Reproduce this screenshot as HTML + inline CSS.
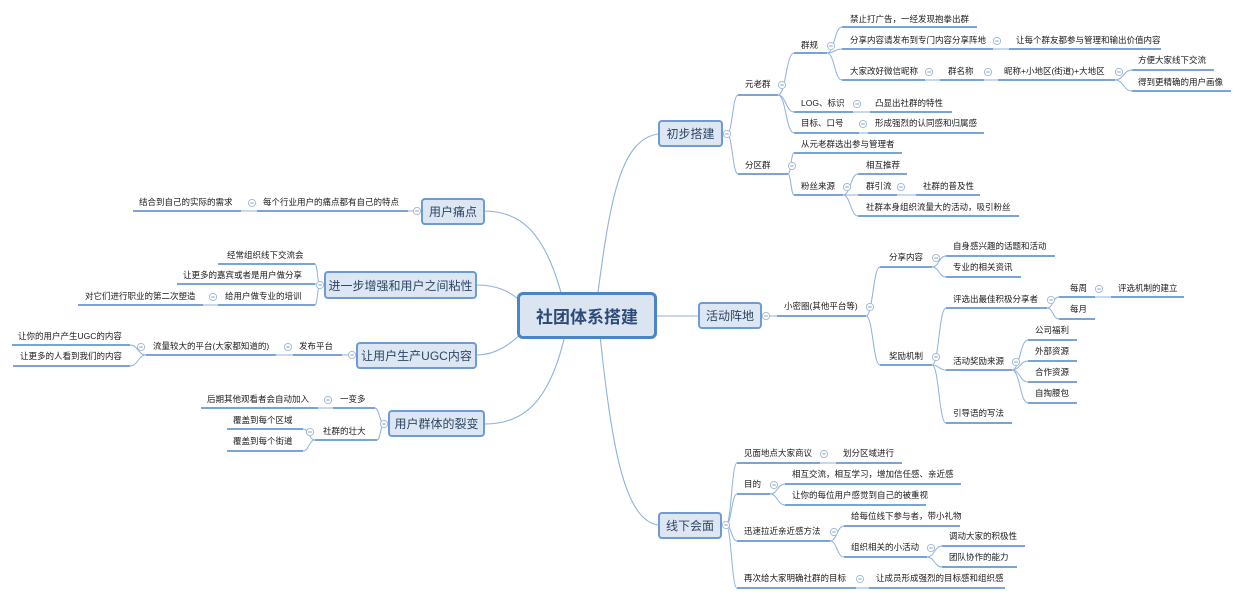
<!DOCTYPE html>
<html><head><meta charset="utf-8">
<style>
html,body{margin:0;padding:0;background:#fff;}
#c{position:relative;width:1240px;height:599px;overflow:hidden;font-family:"Liberation Sans","Noto Sans CJK SC",sans-serif;}
svg{position:absolute;left:0;top:0;}
.t{position:absolute;font-size:8.5px;color:#1a1a1a;white-space:nowrap;line-height:10px;}
.b{position:absolute;box-sizing:border-box;background:#dde7f3;border:2px solid #6e9bd3;border-radius:4px;color:#2f4463;font-size:12px;display:flex;align-items:center;justify-content:center;white-space:nowrap;}
</style></head><body><div id="c"><svg id="s" width="1240" height="599"></svg></div>
<script>
const C=document.getElementById('c'),S=document.getElementById('s');
let svg='';
function line(d,col,w){svg+=`<path d="${d}" fill="none" stroke="${col}" stroke-width="${w}"/>`;}
function circ(x,y){svg+=`<circle cx="${x}" cy="${y}" r="3.6" fill="#fff" stroke="#9db6d6" stroke-width="0.9"/><line x1="${x-1.8}" y1="${y}" x2="${x+1.8}" y2="${y}" stroke="#7f97b8" stroke-width="0.9"/>`;}
function txt(t,x,y){const d=document.createElement('div');d.className='t';d.textContent=t;d.style.left=x+'px';d.style.top=(y-6)+'px';C.appendChild(d);}
function box(t,x,y,w,h,extra){const d=document.createElement('div');d.className='b';d.textContent=t;d.style.left=x+'px';d.style.top=y+'px';d.style.width=w+'px';d.style.height=h+'px';if(extra)Object.assign(d.style,extra);C.appendChild(d);}
const LC='#8fb1de';
function N(t,x,ty,x1,x2,uy){return {t,x,ty,x1,x2,uy:uy===undefined?ty+8:uy};}
function drawNode(n){txt(n.t,n.x,n.ty);line(`M${n.x1} ${n.uy}H${n.x2}`,'#4f86c9',1.6);}
function edgeR(px,py,c){const mx=px+Math.min(9,(c.x1-px)/2);line(`M${px} ${py}C${mx} ${py} ${mx} ${c.uy} ${c.x1} ${c.uy}`,LC,1);}
function edgeL(px,py,c){const mx=px-Math.min(9,(px-c.x2)/2);line(`M${px} ${py}C${mx} ${py} ${mx} ${c.uy} ${c.x2} ${c.uy}`,LC,1);}
function R(p,kids){kids.forEach(k=>{edgeR(p.x2,p.uy,k[0]);drawNode(k[0]);if(k[1]){R(k[0],k[1]);}});if(kids.length)circ(p.x2+4,p.ty);}
function Lf(p,kids){kids.forEach(k=>{edgeL(p.x1,p.uy,k[0]);drawNode(k[0]);if(k[1]){Lf(k[0],k[1]);}});if(kids.length)circ(p.x1-5,p.ty);}
function BR(bx,by,kids){kids.forEach(k=>{edgeR(bx+4,by,k[0]);drawNode(k[0]);if(k[1])R(k[0],k[1]);});circ(bx+4,by);}
function BL(bx,by,kids){kids.forEach(k=>{edgeL(bx-4,by,k[0]);drawNode(k[0]);if(k[1])Lf(k[0],k[1]);});circ(bx-4,by);}

line('M597 300C610 200 620 140 658 134',LC,1.1);
line('M657 316H698',LC,1.1);
line('M600 335C612 450 625 520 658 525',LC,1.1);
line('M563 300C545 230 520 212 485 211',LC,1.1);
line('M525 305C510 290 495 285 477 285',LC,1.1);
line('M525 330C510 345 495 355 477 355',LC,1.1);
line('M565 335C550 400 525 424 485 424',LC,1.1);

BR(723,134,[
 [N('元老群',745,85,738,778,95),[
   [N('群规',801,46,794,827,53),[
     [N('禁止打广告，一经发现抱拳出群',850,20,842,977,27)],
     [N('分享内容请发布到专门内容分享阵地',850,41,842,993,49),[[N('让每个群友都参与管理和输出价值内容',1016,41,1009,1161,49)]]],
     [N('大家改好微信昵称',850,72,842,925,80),[[N('群名称',948,72,940,984,80),[[N('昵称+小地区(街道)+大地区',1004,72,998,1115,80),[
        [N('方便大家线下交流',1138,61,1132,1214,70)],[N('得到更精确的用户画像',1138,83,1132,1231,91)]]]]]]]
   ]],
   [N('LOG、标识',801,104,794,853,112),[[N('凸显出社群的特性',875,104,870,952,112)]]],
   [N('目标、口号',801,124,794,859,133),[[N('形成强烈的认同感和归属感',875,124,868,984,133)]]]
 ]],
 [N('分区群',745,166,738,788,174),[
   [N('从元老群选出参与管理者',801,145,794,902,153)],
   [N('粉丝来源',801,187,794,843,195),[
     [N('相互推荐',866,166,858,907,174)],
     [N('群引流',866,187,858,897,195),[[N('社群的普及性',923,187,916,980,195)]]],
     [N('社群本身组织流量大的活动，吸引粉丝',866,208,858,1019,216)]
   ]]
 ]]
]);
BR(762,316,[
 [N('小密圈(其他平台等)',784,307,777,866,316),[
   [N('分享内容',889,258,880,932,267),[
     [N('自身感兴趣的话题和活动',953,247,946,1055,256)],
     [N('专业的相关资讯',953,268,946,1021,277)]]],
   [N('奖励机制',889,357,880,932,365),[
     [N('评选出最佳积极分享者',953,300,946,1047,308),[
       [N('每周',1070,289,1059,1095,297),[[N('评选机制的建立',1118,289,1111,1184,297)]]],
       [N('每月',1070,310,1059,1095,319)]]],
     [N('活动奖励来源',953,362,946,1012,370),[
       [N('公司福利',1035,331,1028,1077,340)],[N('外部资源',1035,352,1028,1077,361)],
       [N('合作资源',1035,373,1028,1077,382)],[N('自掏腰包',1035,394,1028,1077,403)]]],
     [N('引导语的写法',953,414,946,1012,423)]]]
 ]]
]);
BR(722,525,[
 [N('见面地点大家商议',744,454,737,820,463),[[N('划分区域进行',843,454,836,902,463)]]],
 [N('目的',744,485,737,770,494),[
   [N('相互交流，相互学习，增加信任感、亲近感',792,475,785,961,484)],
   [N('让你的每位用户感觉到自己的被重视',792,496,785,926,505)]]],
 [N('迅速拉近亲近感方法',744,532,737,830,541),[
   [N('给每位线下参与者，带小礼物',851,517,844,960,526)],
   [N('组织相关的小活动',851,548,844,927,557),[
     [N('调动大家的积极性',949,537,942,1025,546)],
     [N('团队协作的能力',949,558,942,1017,567)]]]]],
 [N('再次给大家明确社群的目标',744,579,737,856,588),[[N('让成员形成强烈的目标感和组织感',876,579,869,1005,588)]]]
]);
BL(421,211,[[N('每个行业用户的痛点都有自己的特点',263,203,257,408,211),[[N('结合到自己的实际的需求',139,203,133,241,211)]]]]);
BL(324,285,[
 [N('经常组织线下交流会',227,256,218,315,264)],
 [N('让更多的嘉宾或者是用户做分享',183,276,177,315,284)],
 [N('给用户做专业的培训',225,297,218,315,305),[[N('对它们进行职业的第二次塑造',85,297,78,203,305)]]]
]);
BL(356,355,[[N('发布平台',299,347,293,342,355),[[N('流量较大的平台(大家都知道的)',153,347,146,276,355),[
  [N('让你的用户产生UGC的内容',18,337,12,130,345)],[N('让更多的人看到我们的内容',20,357,13,130,366)]]]]]]);
BL(388,424,[
 [N('一变多',340,400,333,375,408),[[N('后期其他观看者会自动加入',207,400,201,318,408)]]],
 [N('社群的壮大',323,432,315,377,440),[[N('覆盖到每个区域',233,421,227,303,429)],[N('覆盖到每个街道',233,442,227,303,451)]]]
]);
S.innerHTML=svg;
box('初步搭建',658,120,65,27);
box('活动阵地',698,302,64,27);
box('线下会面',658,512,64,27);
box('用户痛点',421,198,64,27);
box('进一步增强和用户之间粘性',324,271,153,28);
box('让用户生产UGC内容',356,342,121,27);
box('用户群体的裂变',388,410,97,27);
box('社团体系搭建',517,292,140,47,{border:'3px solid #4c84c8',borderRadius:'6px',fontSize:'17px',fontWeight:'bold',color:'#2d4a78',background:'#dbe5f2'});
</script></body></html>
